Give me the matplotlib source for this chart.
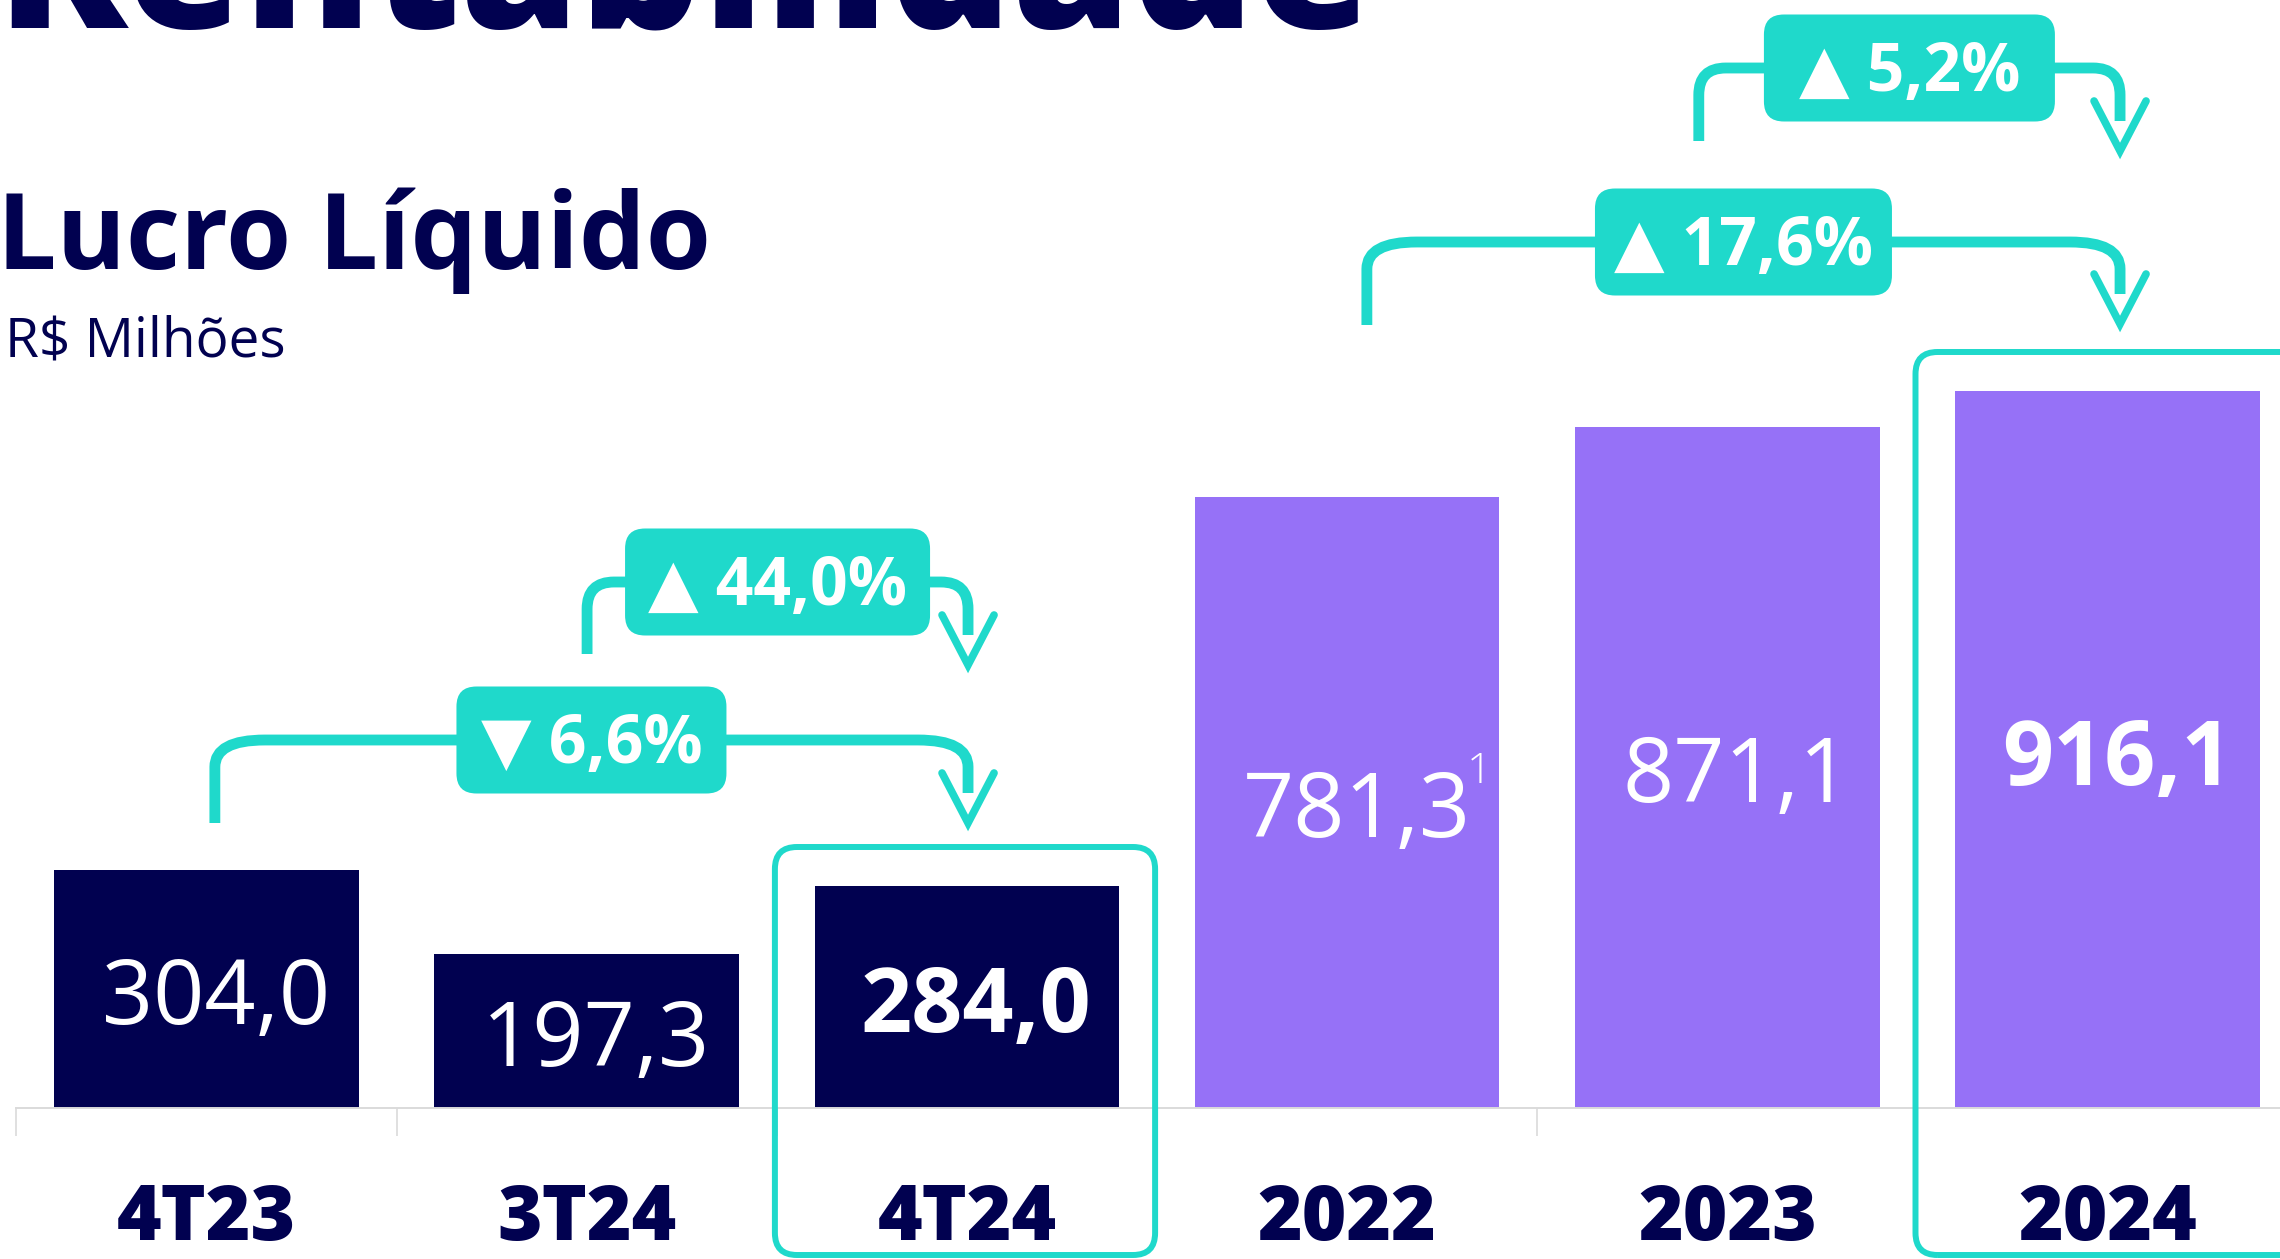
import matplotlib
matplotlib.use("Agg")
import matplotlib.pyplot as plt
from matplotlib.patches import FancyBboxPatch, PathPatch
from matplotlib.path import Path

# ---------------- data ----------------
categories = ["4T23", "3T24", "4T24", "2022", "2023", "2024"]
values = [304.0, 197.3, 284.0, 781.3, 871.1, 916.1]
value_labels = ["304,0", "197,3", "284,0", "781,3", "871,1", "916,1"]
highlighted = ["4T24", "2024"]
footnotes = {"2022": "1"}

var_from = ["4T23", "3T24", "2022", "2023"]
var_to = ["4T24", "4T24", "2024", "2024"]
var_labels = ["6,6%", "44,0%", "17,6%", "5,2%"]
var_up = [False, True, True, True]

title = "Rentabilidade"
subtitle = "Lucro Líquido"
unit_label = "R$ Milhões"

# ---------------- style / layout ----------------
NAVY = "#010150"
PURPLE = "#9671F7"
TEAL = "#1FD9CB"
GRAY = "#DADADA"
FONT = "Open Sans"
SYM_FONTS = [FONT, "DejaVu Sans"]
bar_colors = [NAVY, NAVY, NAVY, PURPLE, PURPLE, PURPLE]

W, H, DPI = 2280, 1259, 100
BASE_PX = 1108        # pixel row of the zero line
X0_PX = 206.5         # pixel column of the first category
STEP_PX = 380.2       # pixels between categories
Y_SCALE = 0.7823      # pixels per R$ million
ASPECT = STEP_PX / Y_SCALE

fig = plt.figure(figsize=(W / DPI, H / DPI), dpi=DPI)
fig.patch.set_facecolor("white")
ax = fig.add_axes([0, (H - BASE_PX) / H, 1, BASE_PX / H])
xlim = (-X0_PX / STEP_PX, (W - X0_PX) / STEP_PX)
ylim = (0, BASE_PX / Y_SCALE)
ax.patch.set_alpha(0)
renderer = fig.canvas.get_renderer()


def row_to_y(row):
    return (BASE_PX - row) / Y_SCALE


def fit_width(t, target_px):
    w = t.get_window_extent(renderer).width
    t.set_fontsize(t.get_fontsize() * target_px / w)


# headings
t = fig.text(-4 / W, 1 - 28 / H, title, fontsize=140, fontweight=800,
             color=NAVY, family=FONT, ha="left", va="baseline")
fit_width(t, 1378)
fig.text(-3 / W, 1 - 269 / H, subtitle, fontsize=76, fontweight="bold",
         color=NAVY, family=FONT, ha="left", va="baseline")
fig.text(5 / W, 1 - 357 / H, unit_label, fontsize=39.5, fontweight="normal",
         color=NAVY, family=FONT, ha="left", va="baseline")

# bars
xs = list(range(len(categories)))
ax.bar(xs, values, width=0.801, color=bar_colors, zorder=2)

# axis
for s in ["top", "left", "right"]:
    ax.spines[s].set_visible(False)
ax.spines["bottom"].set_color(GRAY)
ax.spines["bottom"].set_linewidth(1.4)
ax.spines["bottom"].set_bounds(-0.5, xlim[1])
ax.set_yticks([])
ax.set_xticks(xs, labels=categories)
ax.set_xticks([i - 0.5 for i in range(len(categories) + 1)], minor=True)
ax.tick_params(axis="x", which="major", length=0, pad=53, labelsize=55,
               labelcolor=NAVY)
ax.tick_params(axis="x", which="minor", length=20, width=1.2, color=GRAY)
for lbl in ax.get_xticklabels():
    lbl.set_fontweight(800)
    lbl.set_family(FONT)
ax.set_xlim(*xlim)
ax.set_ylim(*ylim)

# value labels
CAP = 64
for i, (cat, v, lbl) in enumerate(zip(categories, values, value_labels)):
    bold = cat in highlighted
    tl = ax.text(i + 0.025, v / 2 - (CAP / 2 + 3) / Y_SCALE, lbl,
                 ha="center", va="baseline", color="white",
                 fontsize=CAP / 0.714 * 0.72,
                 fontweight="bold" if bold else "normal", family=FONT, zorder=6)
    if cat in footnotes:
        ax.annotate(footnotes[cat], xy=(1, 0), xycoords=tl,
                    xytext=(-4, 76), textcoords="offset pixels",
                    ha="left", va="baseline", color="white",
                    fontsize=31 / 0.714 * 0.72, fontweight="light",
                    family=FONT, zorder=6)

# highlight outlines
HL_TOP_ROW = [847, 352]
HL_BOTTOM_ROW = 1255
for k, cat in enumerate(highlighted):
    i = categories.index(cat)
    x0 = i - 0.505
    x1 = i + 0.495 if i < len(categories) - 1 else i + 0.7
    y0, y1 = row_to_y(HL_BOTTOM_ROW), row_to_y(HL_TOP_ROW[k])
    ax.add_patch(FancyBboxPatch((x0, y0), x1 - x0, y1 - y0,
                                boxstyle=f"round,pad=0,rounding_size={22 / STEP_PX}",
                                mutation_aspect=ASPECT, fc="none", ec=TEAL,
                                lw=4.3, zorder=3, clip_on=False))

# variation connectors
ann_from_dx = [0.022, 0.001, 0.052, -0.075]
ann_to_dx = [0.003, 0.003, 0.033, 0.033]
ann_start_row = [823, 654, 325, 141]
ann_line_row = [740, 582, 242, 68]
ann_tip_row = [823, 665, 324, 151]
ann_box_w = [270, 305, 297, 291]
ann_elbow = [50, 27, 50, 27]
BOX_H = 107
ELBOW_V = 27
LINE_W = 7.8
HEAD_W, HEAD_H = 26, 50
BOX_CAP = 47

for k in range(len(var_labels)):
    i0 = categories.index(var_from[k])
    i1 = categories.index(var_to[k])
    xa = i0 + ann_from_dx[k]
    xb = i1 + ann_to_dx[k]
    ys = row_to_y(ann_start_row[k])
    yl = row_to_y(ann_line_row[k])
    yt = row_to_y(ann_tip_row[k])
    rx = ann_elbow[k] / STEP_PX
    ry = ELBOW_V / Y_SCALE
    verts = [(xa, ys), (xa, yl - ry), (xa, yl), (xa + rx, yl),
             (xb - rx, yl), (xb, yl), (xb, yl - ry), (xb, yt + 30 / Y_SCALE)]
    codes = [Path.MOVETO, Path.LINETO, Path.CURVE3, Path.CURVE3,
             Path.LINETO, Path.CURVE3, Path.CURVE3, Path.LINETO]
    ax.add_patch(PathPatch(Path(verts, codes), fill=False, ec=TEAL, lw=LINE_W,
                           capstyle="butt", joinstyle="round", zorder=4,
                           clip_on=False))
    hx = HEAD_W / STEP_PX
    hy = HEAD_H / Y_SCALE
    ax.plot([xb - hx, xb, xb + hx], [yt + hy, yt, yt + hy], color=TEAL,
            lw=5.5, solid_joinstyle="miter", solid_capstyle="round",
            zorder=4, clip_on=False)
    cx = (xa + xb) / 2
    bw = ann_box_w[k] / STEP_PX
    bh = BOX_H / Y_SCALE
    ax.add_patch(FancyBboxPatch((cx - bw / 2, yl - bh / 2), bw, bh,
                                boxstyle=f"round,pad=0,rounding_size={20 / STEP_PX}",
                                mutation_aspect=ASPECT, fc=TEAL, ec="none",
                                zorder=5, clip_on=False))
    sym = "\u25B2" if var_up[k] else "\u25BC"
    ax.text(cx, yl - (BOX_CAP / 2) / Y_SCALE, f"{sym} {var_labels[k]}",
            ha="center", va="baseline", color="white",
            fontsize=BOX_CAP / 0.714 * 0.72, fontweight="bold",
            family=SYM_FONTS, zorder=6)

fig.savefig("out.png", dpi=DPI, facecolor="white")
